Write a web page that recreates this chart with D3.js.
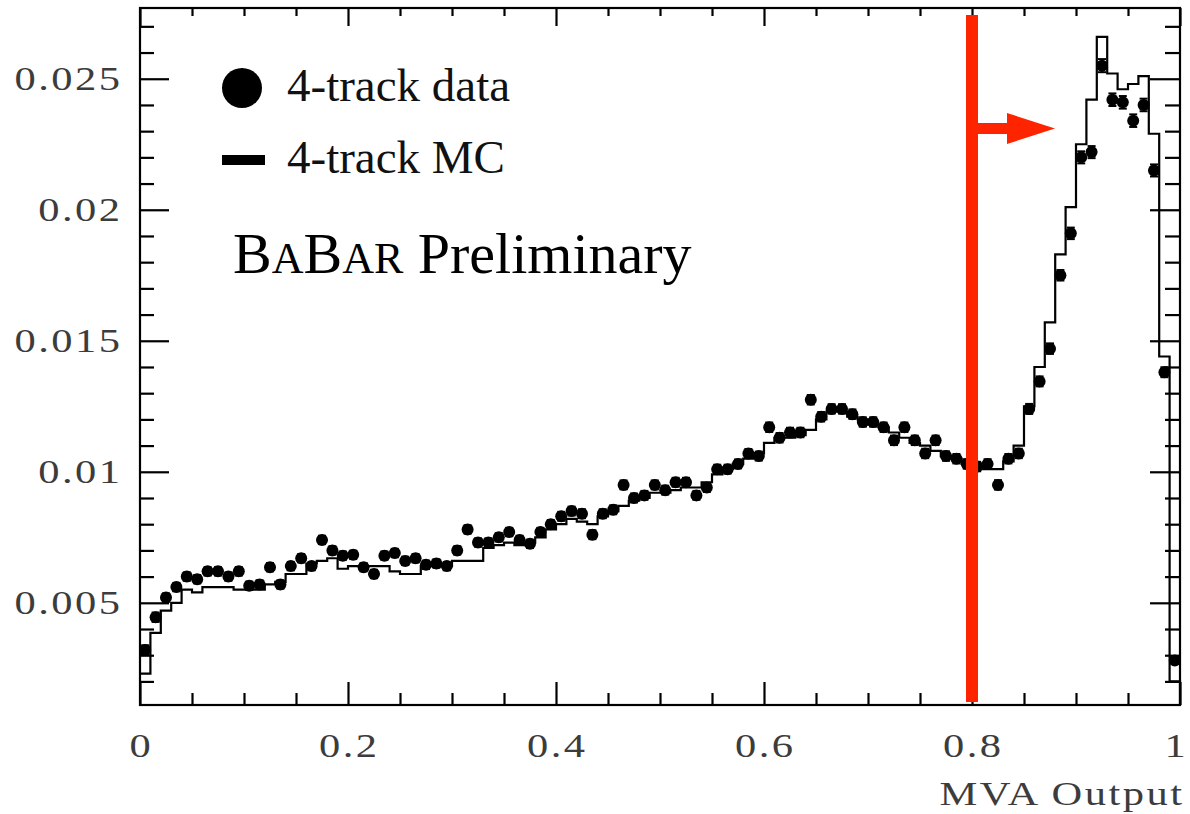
<!DOCTYPE html>
<html><head><meta charset="utf-8">
<script src="https://cdn.jsdelivr.net/npm/d3@7"></script>
<style>html,body{margin:0;padding:0;background:#fff}svg{display:block}</style>
</head><body>
<svg id="chart" width="1190" height="814"></svg>
<script>
// ---- data ----
const nBins = 100;
const binWidth = 0.01;
const dataValues = [
0.0032,0.00445,0.0052,0.0056,0.0060,0.0059,0.0062,0.0062,0.0060,0.0062,
0.00565,0.0057,0.00636,0.0057,0.0064,0.0067,0.0064,0.0074,0.0070,0.0068,
0.00683,0.00636,0.0061,0.0068,0.0069,0.0066,0.0067,0.00645,0.0065,0.0064,
0.0070,0.0078,0.0073,0.0073,0.0075,0.0077,0.0074,0.00725,0.0077,0.0080,
0.0083,0.0085,0.0084,0.0076,0.0084,0.00855,0.0095,0.0090,0.0091,0.0095,
0.0093,0.0096,0.0096,0.0091,0.0094,0.0101,0.0101,0.0103,0.0107,0.0106,
0.0117,0.0113,0.0115,0.0115,0.01275,0.0121,0.0124,0.0124,0.0122,0.0119,
0.0119,0.0117,0.0112,0.0117,0.0112,0.0107,0.0112,0.0106,0.0105,0.0103,
0.0102,0.0103,0.0095,0.0105,0.0107,0.0124,0.01345,0.0147,0.0175,0.0191,
0.0220,0.0222,0.0255,0.0242,0.0241,0.0234,0.0240,0.0215,0.0138,0.0028
];
const dataErrors = [
0.00018,0.00018,0.00016,0.00016,0.00016,0.00016,0.00016,0.00016,0.00016,0.00016,
0.00016,0.00016,0.00016,0.00016,0.00016,0.00016,0.00016,0.00016,0.00016,0.00016,
0.00016,0.00016,0.00016,0.00016,0.00016,0.00016,0.00016,0.00016,0.00016,0.00016,
0.00016,0.00016,0.00016,0.00016,0.00016,0.00016,0.00016,0.00016,0.00016,0.00016,
0.00017,0.00017,0.00017,0.00017,0.00017,0.00017,0.00017,0.00017,0.00017,0.00017,
0.00017,0.00017,0.00017,0.00017,0.00017,0.00017,0.00017,0.00017,0.00017,0.00017,
0.00018,0.00018,0.00018,0.00018,0.00018,0.00018,0.00018,0.00018,0.00018,0.00018,
0.00018,0.00018,0.00018,0.00018,0.00018,0.00018,0.00018,0.00018,0.00018,0.00018,
0.00018,0.00018,0.00018,0.00018,0.00018,0.00019,0.00019,0.0002,0.0002,0.00022,
0.00023,0.00023,0.00025,0.00024,0.00024,0.00024,0.00024,0.00023,0.00019,0.0001
];
const mcValues = [
0.0023,0.00385,0.0047,0.0050,0.0055,0.0054,0.0056,0.0056,0.0056,0.0055,
0.0055,0.0055,0.0057,0.0058,0.0061,0.0061,0.0065,0.0066,0.0067,0.0063,
0.0064,0.0064,0.0064,0.0064,0.0062,0.0061,0.0061,0.0064,0.0064,0.0064,
0.0066,0.0066,0.0066,0.0071,0.0072,0.0073,0.0072,0.0073,0.0075,0.0078,
0.0080,0.0082,0.0081,0.0080,0.0083,0.0085,0.0087,0.0089,0.0090,0.0092,
0.0092,0.0093,0.0094,0.0094,0.0096,0.0099,0.0101,0.0103,0.0105,0.0107,
0.0111,0.0113,0.0113,0.0114,0.0116,0.0120,0.0123,0.0123,0.0121,0.0120,
0.0118,0.0117,0.0115,0.0113,0.0111,0.0110,0.0108,0.0106,0.0105,0.0103,
0.0102,0.0101,0.0101,0.0104,0.0110,0.0125,0.0140,0.0157,0.0183,0.0201,
0.0225,0.0242,0.0266,0.0252,0.0246,0.0248,0.0251,0.0229,0.0144,0.0020
];
const xTickValues = [0, 0.2, 0.4, 0.6, 0.8, 1];
const xTickLabels = ["0", "0.2", "0.4", "0.6", "0.8", "1"];
const yTickValues = [0.005, 0.01, 0.015, 0.02, 0.025];
const yTickLabels = ["0.005", "0.01", "0.015", "0.02", "0.025"];
const xMinorTicks = [0.05,0.1,0.15,0.25,0.3,0.35,0.45,0.5,0.55,0.65,0.7,0.75,0.85,0.9,0.95];
const yMinorTicks = [0.002,0.003,0.004,0.006,0.007,0.008,0.009,0.011,0.012,0.013,0.014,0.016,0.017,0.018,0.019,0.021,0.022,0.023,0.024,0.026,0.027];
const cutValue = 0.8;
const legendLabels = ["4-track data", "4-track MC"];
const xTitle = "MVA Output";

// ---- layout ----
const svg = d3.select("#chart");
const pLeft = 140, pRight = 1180, pTop = 8, pBottom = 705;
const x = d3.scaleLinear().domain([0, 1]).range([pLeft, pRight]);
const y = d3.scaleLinear().domain([0.0011, 0.0277]).range([pBottom, pTop]);

const bins = d3.range(nBins).map(i => ({
  lo: i * binWidth, hi: (i + 1) * binWidth, c: (i + 0.5) * binWidth,
  v: dataValues[i], e: dataErrors[i], mc: mcValues[i]
}));

const labelFont = "'Liberation Serif','Times New Roman',serif";
const ls = 2;       // letter spacing (local units)
const sx = 1.25;    // horizontal stretch of axis texts

// ---- MC histogram ----
const stepPts = bins.map(b => [b.lo, b.mc]);
stepPts.push([1, mcValues[nBins - 1]]);
const stepLine = d3.line().x(d => x(d[0])).y(d => y(d[1])).curve(d3.curveStepAfter);
svg.append("path")
  .attr("d", stepLine(stepPts) + `L${x(1)},${pBottom}`)
  .attr("fill", "none").attr("stroke", "#000").attr("stroke-width", 2.2);

// ---- data points with error bars ----
const g = svg.append("g");
const pts = g.selectAll("g.pt").data(bins).join("g").attr("class", "pt");
pts.append("line")
  .attr("x1", d => x(d.c)).attr("x2", d => x(d.c))
  .attr("y1", d => y(d.v - d.e)).attr("y2", d => y(d.v + d.e))
  .attr("stroke", "#000").attr("stroke-width", 2);
pts.append("line")
  .attr("x1", d => x(d.lo)).attr("x2", d => x(d.hi))
  .attr("y1", d => y(d.v)).attr("y2", d => y(d.v))
  .attr("stroke", "#000").attr("stroke-width", 2);
[-1, 1].forEach(s => {
  pts.append("line")
    .attr("x1", d => x(d.c) - 4).attr("x2", d => x(d.c) + 4)
    .attr("y1", d => y(d.v + s * d.e)).attr("y2", d => y(d.v + s * d.e))
    .attr("stroke", "#000").attr("stroke-width", 2);
});
pts.append("circle")
  .attr("cx", d => x(d.c)).attr("cy", d => y(d.v)).attr("r", 6)
  .attr("fill", "#000");

// ---- frame and ticks ----
svg.append("rect").attr("x", pLeft).attr("y", pTop)
  .attr("width", pRight - pLeft).attr("height", pBottom - pTop)
  .attr("fill", "none").attr("stroke", "#000").attr("stroke-width", 2.2);

function ticks(axisFn, scale, values, size, transform) {
  svg.append("g").attr("transform", transform)
    .call(axisFn(scale).tickValues(values).tickSizeInner(-size).tickSizeOuter(0).tickFormat(""))
    .call(s => s.select(".domain").remove())
    .call(s => s.selectAll("line").attr("stroke", "#000").attr("stroke-width", 2.2));
}
ticks(d3.axisLeft, y, yTickValues, 29, `translate(${pLeft},0)`);
ticks(d3.axisLeft, y, yMinorTicks, 14, `translate(${pLeft},0)`);
ticks(d3.axisRight, y, yTickValues, 30, `translate(${pRight},0)`);
ticks(d3.axisRight, y, yMinorTicks, 15, `translate(${pRight},0)`);
ticks(d3.axisBottom, x, xTickValues, 23, `translate(0,${pBottom})`);
ticks(d3.axisBottom, x, xMinorTicks, 12, `translate(0,${pBottom})`);
ticks(d3.axisTop, x, xTickValues, 18, `translate(0,${pTop})`);
ticks(d3.axisTop, x, xMinorTicks, 8, `translate(0,${pTop})`);

// ---- tick labels ----
const axisTextColor = "#3c3c3c";
svg.selectAll("g.ylab").data(yTickValues).join("g").attr("class", "ylab")
  .attr("transform", d => `translate(120,${y(d) + 11}) scale(${sx},1)`)
  .append("text")
  .attr("x", ls).attr("text-anchor", "end")
  .style("font-family", labelFont).style("font-size", "34px")
  .style("letter-spacing", ls + "px").attr("fill", axisTextColor)
  .text((d, i) => yTickLabels[i]);
svg.selectAll("g.xlab").data(xTickValues).join("g").attr("class", "xlab")
  .attr("transform", d => `translate(${Math.min(x(d), 1175)},757) scale(${sx},1)`)
  .append("text")
  .attr("x", ls / 2).attr("text-anchor", "middle")
  .style("font-family", labelFont).style("font-size", "34px")
  .style("letter-spacing", ls + "px").attr("fill", axisTextColor)
  .text((d, i) => xTickLabels[i]);
svg.append("g").attr("transform", `translate(1182,805) scale(${sx},1)`)
  .append("text").attr("x", ls).attr("text-anchor", "end")
  .style("font-family", labelFont).style("font-size", "34px")
  .style("letter-spacing", ls + "px").attr("fill", axisTextColor)
  .text(xTitle);

// ---- legend ----
svg.append("circle").attr("cx", 242).attr("cy", 88).attr("r", 20).attr("fill", "#000");
svg.append("rect").attr("x", 222).attr("y", 155).attr("width", 43).attr("height", 10).attr("fill", "#000");
svg.append("text").attr("x", 287).attr("y", 101)
  .style("font-family", labelFont).style("font-size", "47px").attr("fill", "#111")
  .text(legendLabels[0]);
svg.append("text").attr("x", 287).attr("y", 173)
  .style("font-family", labelFont).style("font-size", "47px").attr("fill", "#111")
  .text(legendLabels[1]);

const babar = svg.append("text").attr("x", 233).attr("y", 273)
  .style("font-family", labelFont).attr("fill", "#000");
[["B", 58], ["A", 44], ["B", 58], ["AR", 44], [" Preliminary", 58]].forEach(([t, s]) => {
  babar.append("tspan").style("font-size", s + "px").text(t);
});

// ---- cut line and arrow ----
const cutX = x(cutValue);
svg.append("line").attr("x1", cutX).attr("x2", cutX).attr("y1", 15).attr("y2", 702)
  .attr("stroke", "#ff2400").attr("stroke-width", 12);
svg.append("rect").attr("x", cutX).attr("y", 123).attr("width", 36).attr("height", 11).attr("fill", "#ff2400");
svg.append("path").attr("d", `M${cutX + 35},113 L${cutX + 83},128.5 L${cutX + 35},144 Z`).attr("fill", "#ff2400");
</script>
</body></html>
